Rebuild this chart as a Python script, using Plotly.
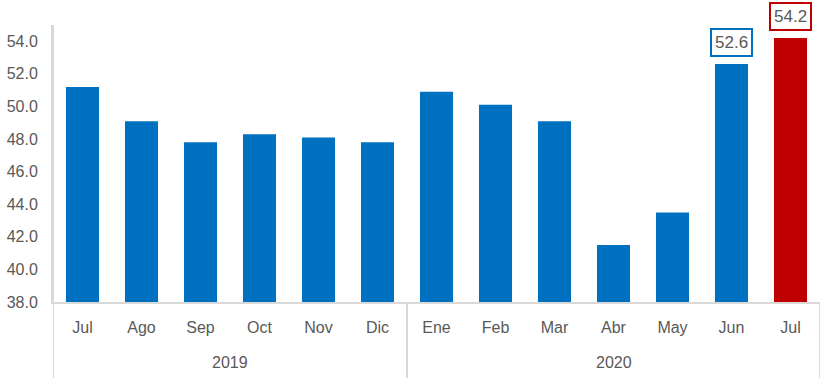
import plotly.graph_objects as go

months = ["Jul", "Ago", "Sep", "Oct", "Nov", "Dic", "Ene", "Feb", "Mar", "Abr", "May", "Jun", "Jul"]
years = ["2019", "2020"]
year_sizes = [6, 7]
values = [51.2, 49.1, 47.8, 48.3, 48.1, 47.8, 50.9, 50.1, 49.1, 41.5, 43.5, 52.6, 54.2]
y_ticks = [38, 40, 42, 44, 46, 48, 50, 52, 54]

BLUE = "#0070C0"
RED = "#C00000"
GRAY_TXT = "#595959"
GRID = "#D9D9D9"
FONT = "Liberation Sans"

xs = list(range(len(months)))
colors = [BLUE] * (len(values) - 1) + [RED]

fig = go.Figure(go.Bar(x=xs, y=values, marker_color=colors, marker_line_width=0))

annotations = []
for i, col in [(len(values) - 2, BLUE), (len(values) - 1, RED)]:
    annotations.append(dict(
        x=xs[i], y=values[i], xref="x", yref="y", text=f"{values[i]:.1f}",
        showarrow=False, yanchor="bottom", yshift=7,
        font=dict(family=FONT, size=17, color=GRAY_TXT),
        bordercolor=col, borderwidth=2, borderpad=3, bgcolor="white"))

shapes = []
start = -0.5
shapes.append(dict(type="line", xref="x", yref="paper", x0=start, x1=start, y0=-0.3, y1=1,
                   line=dict(color=GRID, width=2)))
for yr, n in zip(years, year_sizes):
    end = start + n
    annotations.append(dict(x=(start + end) / 2, y=-0.217, xref="x", yref="paper", text=yr,
                            showarrow=False, yanchor="middle",
                            font=dict(family=FONT, size=16, color=GRAY_TXT)))
    shapes.append(dict(type="line", xref="x", yref="paper", x0=end, x1=end, y0=-0.3, y1=0,
                       line=dict(color=GRID, width=2)))
    start = end

fig.update_layout(
    width=829, height=378,
    margin=dict(l=53, r=9, t=25, b=76),
    plot_bgcolor="white", paper_bgcolor="white",
    bargap=0.44, showlegend=False,
    annotations=annotations, shapes=shapes,
    xaxis=dict(tickmode="array", tickvals=xs, ticktext=months, range=[-0.5, 12.5],
               showline=True, linecolor=GRID, linewidth=2, showgrid=False, ticks="",
               ticklabelstandoff=10, tickfont=dict(family=FONT, size=16, color=GRAY_TXT),
               fixedrange=True, automargin=False),
    yaxis=dict(range=[38, 55], tickmode="array", tickvals=y_ticks,
               ticktext=[f"{v:.1f}" for v in y_ticks], showgrid=False,
               showline=True, linecolor=GRID, linewidth=2, ticks="", zeroline=False,
               tickfont=dict(family=FONT, size=16, color=GRAY_TXT), ticklabelstandoff=10,
               automargin=False),
)

fig.write_html("out.html", config={"displayModeBar": False},
               post_script="document.body.style.margin='0';document.body.style.overflow='hidden';")
